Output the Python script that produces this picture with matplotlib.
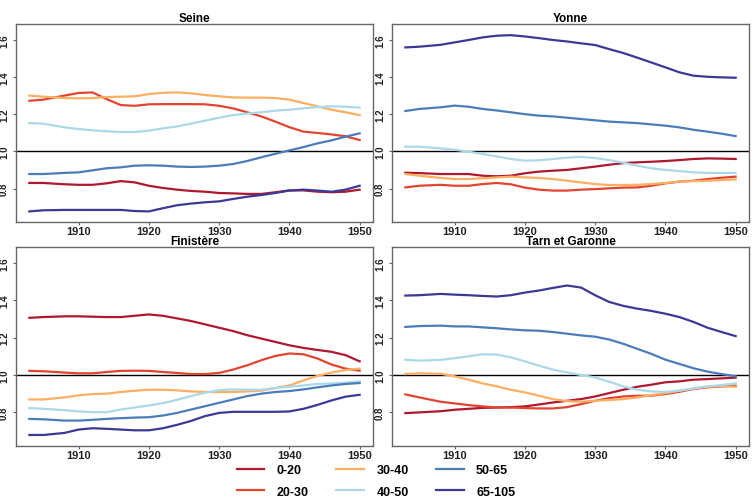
import numpy as np
import matplotlib
matplotlib.use('Agg')
import matplotlib.pyplot as plt

plt.rcParams['font.family'] = ['Liberation Sans Narrow', 'Liberation Sans', 'DejaVu Sans']

# Years sampled from the curves
years = [1903, 1905, 1908, 1910, 1912, 1914, 1916, 1918, 1920, 1922, 1924, 1926,
         1928, 1930, 1932, 1934, 1936, 1938, 1940, 1942, 1944, 1946, 1948, 1950]

groups = ['0-20', '20-30', '30-40', '40-50', '50-65', '65-105']
colors = ['#B0182F', '#E2452F', '#FDAE61', '#ABD9E9', '#4A7DBA', '#3B3996']

# Seine
seine_0_20 = [0.83, 0.83, 0.823, 0.82, 0.82, 0.828, 0.84, 0.833, 0.815, 0.803, 0.794, 0.787,
              0.783, 0.776, 0.774, 0.771, 0.771, 0.78, 0.79, 0.79, 0.783, 0.78, 0.783, 0.794]
seine_20_30 = [1.272, 1.278, 1.30, 1.314, 1.317, 1.281, 1.249, 1.245, 1.253, 1.254, 1.254, 1.254,
               1.253, 1.245, 1.231, 1.21, 1.188, 1.16, 1.13, 1.106, 1.099, 1.091, 1.081, 1.061]
seine_30_40 = [1.30, 1.294, 1.287, 1.285, 1.287, 1.292, 1.294, 1.296, 1.308, 1.315, 1.317, 1.312,
               1.303, 1.296, 1.29, 1.289, 1.289, 1.287, 1.278, 1.26, 1.242, 1.224, 1.21, 1.195]
seine_40_50 = [1.152, 1.149, 1.129, 1.12, 1.113, 1.108, 1.104, 1.104, 1.111, 1.124, 1.134, 1.149,
               1.165, 1.181, 1.195, 1.203, 1.21, 1.219, 1.224, 1.231, 1.238, 1.242, 1.24, 1.235]
seine_50_65 = [0.878, 0.878, 0.884, 0.887, 0.898, 0.909, 0.914, 0.923, 0.925, 0.923, 0.918, 0.916,
               0.918, 0.923, 0.932, 0.948, 0.968, 0.987, 1.005, 1.023, 1.043, 1.059, 1.079, 1.097]
seine_65_105 = [0.677, 0.683, 0.685, 0.685, 0.685, 0.685, 0.685, 0.679, 0.677, 0.694, 0.71, 0.719,
                0.726, 0.731, 0.744, 0.756, 0.765, 0.776, 0.789, 0.794, 0.789, 0.783, 0.794, 0.815]

# Yonne
yonne_0_20 = [0.885, 0.883, 0.878, 0.878, 0.878, 0.869, 0.866, 0.869, 0.882, 0.891, 0.896, 0.90,
              0.909, 0.918, 0.928, 0.937, 0.941, 0.944, 0.948, 0.953, 0.959, 0.962, 0.961, 0.959]
yonne_20_30 = [0.806, 0.815, 0.82, 0.815, 0.815, 0.824, 0.83, 0.823, 0.805, 0.794, 0.789, 0.789,
               0.794, 0.797, 0.801, 0.805, 0.806, 0.815, 0.828, 0.837, 0.842, 0.851, 0.858, 0.864]
yonne_30_40 = [0.878, 0.869, 0.857, 0.851, 0.851, 0.855, 0.86, 0.864, 0.86, 0.857, 0.851, 0.842,
               0.833, 0.824, 0.819, 0.819, 0.82, 0.824, 0.83, 0.837, 0.84, 0.842, 0.846, 0.849]
yonne_40_50 = [1.025, 1.025, 1.016, 1.009, 0.998, 0.986, 0.973, 0.959, 0.95, 0.952, 0.959, 0.966,
               0.97, 0.964, 0.953, 0.939, 0.923, 0.909, 0.90, 0.894, 0.887, 0.884, 0.884, 0.884]
yonne_50_65 = [1.217, 1.228, 1.237, 1.246, 1.24, 1.228, 1.22, 1.21, 1.20, 1.192, 1.188, 1.181,
               1.174, 1.167, 1.16, 1.156, 1.152, 1.145, 1.138, 1.129, 1.116, 1.106, 1.095, 1.082]
yonne_65_105 = [1.559, 1.563, 1.573, 1.586, 1.599, 1.613, 1.622, 1.625, 1.618, 1.609, 1.599, 1.591,
                1.581, 1.572, 1.55, 1.529, 1.504, 1.478, 1.452, 1.425, 1.407, 1.401, 1.398, 1.396]

# Finistere
fin_0_20 = [1.306, 1.31, 1.314, 1.314, 1.312, 1.31, 1.31, 1.317, 1.324, 1.317, 1.303, 1.289,
            1.271, 1.253, 1.235, 1.213, 1.195, 1.177, 1.159, 1.145, 1.134, 1.124, 1.106, 1.073]
fin_20_30 = [1.022, 1.02, 1.013, 1.009, 1.009, 1.016, 1.022, 1.023, 1.022, 1.016, 1.011, 1.005,
             1.005, 1.011, 1.029, 1.052, 1.079, 1.102, 1.115, 1.111, 1.088, 1.056, 1.034, 1.023]
fin_30_40 = [0.869, 0.869, 0.88, 0.891, 0.898, 0.90, 0.909, 0.916, 0.921, 0.921, 0.918, 0.912,
             0.909, 0.909, 0.909, 0.912, 0.916, 0.93, 0.944, 0.971, 0.995, 1.013, 1.027, 1.034]
fin_40_50 = [0.823, 0.819, 0.812, 0.805, 0.801, 0.801, 0.815, 0.826, 0.837, 0.849, 0.867, 0.887,
             0.905, 0.919, 0.923, 0.921, 0.921, 0.93, 0.937, 0.944, 0.952, 0.955, 0.959, 0.966]
fin_50_65 = [0.765, 0.763, 0.756, 0.756, 0.76, 0.765, 0.769, 0.772, 0.774, 0.783, 0.797, 0.815,
             0.833, 0.851, 0.869, 0.887, 0.90, 0.909, 0.914, 0.923, 0.934, 0.944, 0.952, 0.957]
fin_65_105 = [0.679, 0.679, 0.69, 0.708, 0.715, 0.712, 0.708, 0.704, 0.704, 0.715, 0.733, 0.754,
              0.78, 0.797, 0.803, 0.803, 0.803, 0.803, 0.805, 0.819, 0.84, 0.864, 0.884, 0.894]

# Tarn et Garonne
tarn_0_20 = [0.796, 0.80, 0.806, 0.814, 0.819, 0.824, 0.826, 0.828, 0.832, 0.842, 0.853, 0.862,
             0.871, 0.885, 0.903, 0.921, 0.937, 0.948, 0.961, 0.966, 0.975, 0.978, 0.982, 0.986]
tarn_20_30 = [0.896, 0.88, 0.857, 0.848, 0.839, 0.832, 0.826, 0.826, 0.823, 0.821, 0.821, 0.828,
              0.844, 0.862, 0.876, 0.885, 0.889, 0.889, 0.898, 0.91, 0.925, 0.934, 0.939, 0.943]
tarn_30_40 = [1.005, 1.009, 1.007, 0.993, 0.975, 0.955, 0.939, 0.921, 0.907, 0.889, 0.871, 0.86,
              0.857, 0.862, 0.866, 0.871, 0.88, 0.892, 0.903, 0.916, 0.928, 0.937, 0.941, 0.937]
tarn_40_50 = [1.081, 1.077, 1.081, 1.09, 1.10, 1.111, 1.109, 1.095, 1.073, 1.05, 1.029, 1.014,
              1.0, 0.987, 0.964, 0.939, 0.921, 0.912, 0.91, 0.916, 0.928, 0.939, 0.946, 0.955]
tarn_50_65 = [1.257, 1.262, 1.264, 1.26, 1.26, 1.255, 1.25, 1.244, 1.239, 1.237, 1.23, 1.221,
              1.212, 1.205, 1.19, 1.167, 1.14, 1.113, 1.082, 1.059, 1.036, 1.018, 1.005, 0.993]
tarn_65_105 = [1.425, 1.427, 1.434, 1.43, 1.427, 1.423, 1.42, 1.427, 1.441, 1.452, 1.466, 1.479,
               1.468, 1.427, 1.391, 1.37, 1.355, 1.343, 1.328, 1.31, 1.284, 1.253, 1.23, 1.208]

panels = [
    ('Seine', [seine_0_20, seine_20_30, seine_30_40, seine_40_50, seine_50_65, seine_65_105]),
    ('Yonne', [yonne_0_20, yonne_20_30, yonne_30_40, yonne_40_50, yonne_50_65, yonne_65_105]),
    ('Finistère', [fin_0_20, fin_20_30, fin_30_40, fin_40_50, fin_50_65, fin_65_105]),
    ('Tarn et Garonne', [tarn_0_20, tarn_20_30, tarn_30_40, tarn_40_50, tarn_50_65, tarn_65_105]),
]

# axes rectangles in pixels (left, top, right, bottom)
W, H = 753, 502
rects = [(16, 25, 373, 223), (392, 25, 749, 223),
         (16, 248, 373, 447), (392, 248, 749, 447)]

fig = plt.figure(figsize=(7.53, 5.02), dpi=100)
handles = []
for (title, series), (x0, y0, x1, y1) in zip(panels, rects):
    ax = fig.add_axes([x0 / W, 1 - y1 / H, (x1 - x0) / W, (y1 - y0) / H])
    ax.axhline(1.0, color='black', lw=1.0, zorder=1)
    hs = []
    for s, c, g in zip(series, colors, groups):
        h, = ax.plot(years, s, color=c, lw=1.6, label=g, zorder=2)
        hs.append(h)
    handles = hs
    ax.set_xlim(1901.1, 1951.9)
    ax.set_ylim(0.62, 1.685)
    ax.set_xticks([1910, 1920, 1930, 1940, 1950])
    ax.set_yticks([0.8, 1.0, 1.2, 1.4, 1.6])
    ax.set_yticklabels(['0.8', '1.0', '1.2', '1.4', '1.6'], rotation=90, va='center')
    for lab in ax.get_xticklabels():
        lab.set_fontweight('bold')
        lab.set_fontsize(8)
        lab.set_color('#222222')
    for lab in ax.get_yticklabels():
        lab.set_fontweight('bold')
        lab.set_fontsize(7)
        lab.set_color('#222222')
    ax.tick_params(axis='x', length=2.5, width=0.8, color='#666666', pad=0.5)
    ax.tick_params(axis='y', length=2.5, width=0.8, color='#666666', pad=2.5)
    for sp in ax.spines.values():
        sp.set_color('#666666')
        sp.set_linewidth(1.0)
    ax.set_title(title, fontsize=8.5, fontweight='bold', pad=0)

leg = fig.legend(handles, groups, loc='center', bbox_to_anchor=(376 / W, 1 - 482 / H),
                 ncol=3, frameon=False, handlelength=2.2, handletextpad=1.0,
                 columnspacing=2.2, labelspacing=0.75,
                 prop={'weight': 'bold', 'size': 9})

fig.savefig('out.png', dpi=100)
